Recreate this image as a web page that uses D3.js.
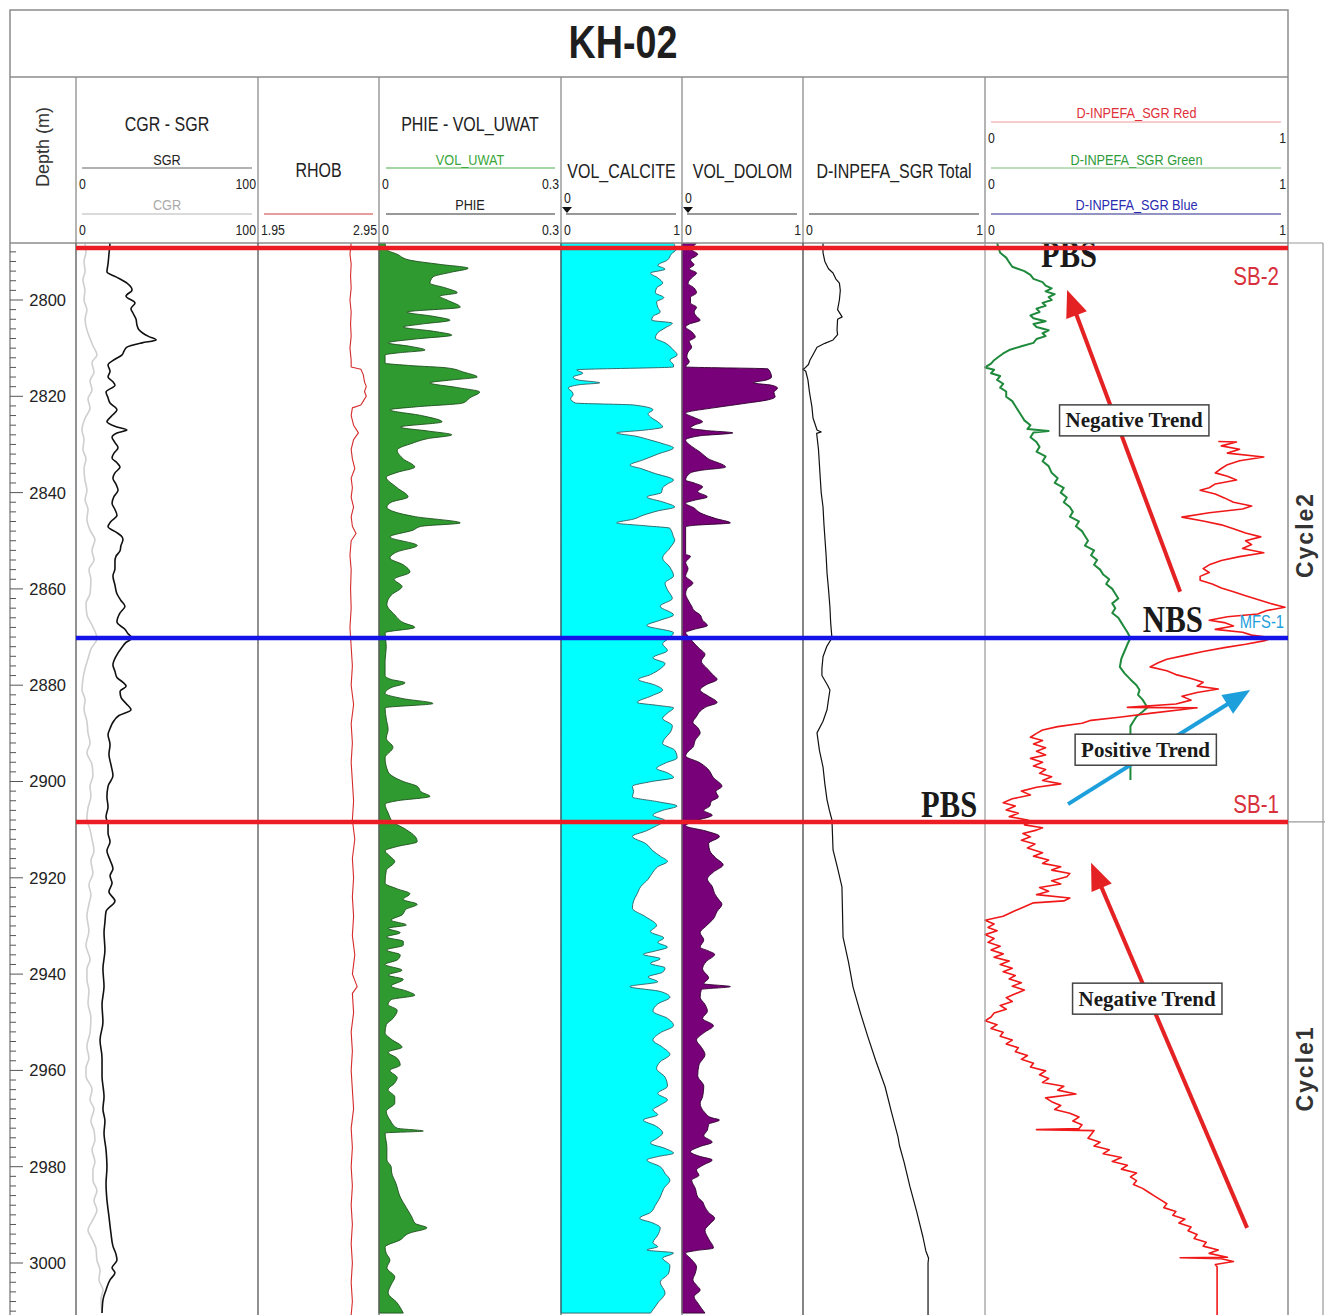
<!DOCTYPE html>
<html>
<head>
<meta charset="utf-8">
<script src="https://cdn.jsdelivr.net/npm/d3@7"></script>
<style>
  body { margin: 0; background: #fff; }
  svg { display: block; }
</style>
</head>
<body>
<svg id="chart" width="1325" height="1315"></svg>
<script>
// ---- log values, [depth (m), value] ----
var sgr = [[2788.2,18.7],[2790.5,18.1],[2792.5,17.6],[2794.2,17.0],[2795.2,22.0],[2796.5,28.0],[2797.9,30.8],[2799.2,27.5],[2800.6,32.4],[2801.8,30.2],[2802.7,31.3],[2804.0,33.0],[2805.2,33.5],[2806.2,34.6],[2806.9,36.8],[2807.6,40.1],[2808.3,44.0],[2808.9,36.3],[2809.8,28.0],[2810.6,26.4],[2811.4,25.3],[2812.3,21.4],[2813.5,17.6],[2814.8,18.7],[2816.0,17.6],[2817.0,20.3],[2817.7,21.4],[2819.1,16.5],[2820.3,17.6],[2821.4,18.7],[2822.8,22.5],[2824.0,19.8],[2825.3,17.0],[2826.3,22.0],[2827.0,28.0],[2827.6,22.5],[2828.5,19.8],[2829.6,21.4],[2830.7,23.1],[2831.8,20.9],[2832.8,19.8],[2833.8,22.5],[2834.7,24.2],[2835.9,21.4],[2837.0,20.3],[2838.3,22.0],[2839.5,23.1],[2840.8,20.9],[2842.2,19.8],[2843.5,21.4],[2844.7,22.5],[2846.0,19.2],[2847.1,17.6],[2848.2,22.0],[2849.2,25.3],[2849.8,25.8],[2851.0,24.7],[2852.1,24.2],[2853.2,22.0],[2854.3,21.4],[2855.8,21.4],[2857.3,20.3],[2859.2,21.4],[2861.0,22.5],[2862.4,24.7],[2863.6,26.9],[2865.0,24.2],[2866.9,22.5],[2868.4,26.9],[2869.3,28.6],[2870.2,30.8],[2871.1,27.5],[2872.1,25.3],[2874.0,22.0],[2875.8,20.3],[2877.1,21.4],[2878.4,22.5],[2879.4,25.8],[2880.2,27.5],[2881.3,24.2],[2882.5,24.7],[2883.8,27.5],[2885.1,30.2],[2886.3,23.6],[2887.7,20.3],[2889.0,18.7],[2890.3,17.6],[2892.3,18.7],[2894.4,18.1],[2896.5,19.2],[2898.8,20.3],[2901.0,17.6],[2903.2,17.0],[2905.3,17.6],[2907.3,16.5],[2909.0,17.6],[2910.7,17.6],[2912.5,18.7],[2914.4,17.0],[2916.3,18.7],[2918.1,20.3],[2919.6,18.7],[2921.1,19.8],[2922.9,18.1],[2924.8,21.4],[2927.0,16.5],[2929.2,15.9],[2931.4,15.4],[2935.0,15.9],[2938.9,14.8],[2942.6,15.4],[2946.3,14.3],[2950.0,14.8],[2953.7,13.2],[2957.4,14.3],[2961.1,14.3],[2965.5,15.4],[2968.0,14.8],[2970.5,15.9],[2973.0,15.4],[2976.5,16.5],[2980.1,17.0],[2983.5,16.5],[2986.9,17.0],[2990.3,18.1],[2993.8,19.2],[2996.5,20.3],[2998.2,22.0],[2999.4,22.5],[3001.0,19.8],[3002.0,21.4],[3003.5,18.7],[3005.6,16.5],[3007.7,14.8],[3010.4,14.3]];

var cgr = [[2788.2,4.9],[2790,5.5],[2792,4.4],[2794,5.0],[2795.8,3.8],[2798,4.9],[2800,4.4],[2802,6.0],[2804,5.0],[2806.2,6.0],[2808,7.7],[2809.5,9.3],[2811.4,11.5],[2813,8.8],[2815,9.9],[2816.8,7.7],[2818.7,8.8],[2820.5,6.6],[2822.5,7.7],[2824.5,5.0],[2827,3.3],[2829,4.4],[2831,3.8],[2833,5.5],[2835,4.4],[2837.4,4.9],[2839.5,6.0],[2841.5,5.0],[2843.5,6.6],[2845.5,6.0],[2847.8,7.7],[2849.8,10.4],[2852,8.8],[2854,9.9],[2856,7.1],[2858,8.2],[2861,7.7],[2863,5.5],[2865.4,6.0],[2867.5,8.8],[2870.3,11.5],[2872.5,8.2],[2874.5,6.6],[2876.5,5.0],[2878.8,3.8],[2881,3.3],[2883,5.0],[2885,4.4],[2887.5,6.0],[2889.9,6.6],[2892,7.7],[2894,6.0],[2896.5,8.8],[2898.8,9.3],[2901,7.7],[2903,8.2],[2905.5,6.6],[2907.7,6.0],[2910,7.7],[2912,8.8],[2914.4,9.9],[2916.5,8.2],[2919,9.3],[2921.5,7.1],[2923.5,8.2],[2925.5,7.1],[2928,6.0],[2931,7.1],[2934,5.5],[2937,7.7],[2939,6.0],[2941.1,6.0],[2943.5,7.1],[2946,6.6],[2949,8.2],[2952.2,7.7],[2955,6.0],[2957.5,7.1],[2959.5,5.5],[2961.1,5.5],[2964,8.8],[2966.1,7.7],[2968,9.9],[2970.5,8.2],[2972.5,9.9],[2974.5,10.4],[2976.5,8.8],[2979,10.4],[2980.7,9.3],[2982.8,9.3],[2985,11.5],[2987,9.9],[2989,11.5],[2991,9.3],[2993.2,6.6],[2995,8.8],[2997,11.0],[2999.4,11.5],[3001.5,13.2],[3003.5,12.6],[3005.6,14.8],[3007.5,13.7],[3010.4,14.3]];

var rhob = [[2788.2,2.72],[2790.5,2.71],[2792.5,2.72],[2795,2.715],[2797.5,2.72],[2800,2.71],[2802.5,2.72],[2805,2.715],[2807.5,2.72],[2810,2.71],[2812.5,2.72],[2813.9,2.72],[2814.4,2.80],[2815.5,2.82],[2817,2.83],[2818,2.845],[2819,2.83],[2820,2.845],[2821,2.82],[2821.8,2.80],[2822.4,2.73],[2824,2.72],[2826,2.74],[2827.6,2.78],[2829,2.74],[2831,2.72],[2833,2.73],[2835,2.75],[2837,2.72],[2839,2.73],[2841,2.72],[2843,2.74],[2845,2.72],[2847,2.73],[2848.5,2.76],[2850,2.72],[2853,2.71],[2856,2.72],[2860,2.715],[2864,2.72],[2868,2.71],[2872,2.72],[2876,2.73],[2880,2.72],[2884,2.74],[2888,2.72],[2892,2.73],[2896,2.72],[2900,2.73],[2904,2.74],[2908,2.73],[2912,2.75],[2916,2.73],[2920,2.74],[2924,2.73],[2928,2.74],[2932,2.73],[2936,2.75],[2940,2.73],[2942.6,2.77],[2944,2.73],[2948,2.74],[2952,2.72],[2956,2.73],[2960,2.72],[2964,2.73],[2968,2.74],[2972,2.72],[2976,2.73],[2980,2.72],[2984,2.73],[2988,2.72],[2992,2.73],[2996,2.72],[3000,2.73],[3004,2.72],[3008,2.73],[3010.8,2.72]];

var phie = [[2788.2,0.010],[2789.5,0.012],[2790.5,0.03],[2791.7,0.050],[2792.6,0.10],[2793.4,0.147],[2794.2,0.12],[2795.2,0.089],[2796.5,0.084],[2797.5,0.11],[2798.5,0.129],[2799.2,0.10],[2800.0,0.112],[2801.5,0.134],[2802.5,0.046],[2803.4,0.09],[2804.2,0.117],[2805.0,0.07],[2805.6,0.040],[2806.5,0.09],[2807.3,0.120],[2808.1,0.06],[2808.9,0.015],[2809.6,0.05],[2810.4,0.076],[2811.0,0.03],[2811.4,0.010],[2813.1,0.010],[2813.6,0.05],[2814.1,0.112],[2815.0,0.14],[2816.0,0.162],[2816.6,0.12],[2817.2,0.084],[2818.2,0.13],[2819.1,0.166],[2820.3,0.15],[2821.4,0.138],[2822.2,0.06],[2822.8,0.018],[2824.0,0.07],[2825.3,0.104],[2826.4,0.035],[2827.2,0.08],[2828.0,0.120],[2828.8,0.08],[2829.7,0.056],[2831.2,0.030],[2833.0,0.04],[2834.7,0.059],[2835.8,0.03],[2836.8,0.012],[2839.0,0.03],[2840.9,0.048],[2842.0,0.02],[2843.0,0.013],[2845.0,0.06],[2846.3,0.134],[2847.0,0.07],[2847.8,0.056],[2849.2,0.018],[2851.0,0.063],[2852.3,0.03],[2853.6,0.018],[2855.0,0.04],[2856.5,0.051],[2858.0,0.025],[2859.5,0.038],[2861.3,0.02],[2863.2,0.013],[2865.4,0.026],[2867.0,0.04],[2868.0,0.059],[2869.1,0.010],[2872,0.012],[2875,0.010],[2878.0,0.010],[2878.8,0.02],[2879.5,0.043],[2880.5,0.02],[2881.7,0.010],[2882.8,0.04],[2883.8,0.089],[2884.7,0.010],[2887,0.012],[2889.2,0.015],[2891,0.012],[2892.9,0.023],[2895.1,0.010],[2898,0.015],[2900,0.04],[2901.0,0.063],[2902.2,0.07],[2903.1,0.084],[2904.0,0.03],[2904.7,0.010],[2906.5,0.015],[2908.4,0.023],[2910,0.045],[2911.5,0.06],[2912.5,0.063],[2913.5,0.03],[2914.4,0.010],[2915.5,0.018],[2916.6,0.026],[2918.5,0.012],[2921.1,0.010],[2922.3,0.03],[2923.3,0.051],[2924.5,0.04],[2925.5,0.063],[2926.5,0.045],[2927.7,0.038],[2928.8,0.02],[2929.8,0.045],[2930.5,0.015],[2931.4,0.035],[2932.3,0.012],[2933.2,0.04],[2934.0,0.040],[2935,0.012],[2936,0.035],[2937.0,0.031],[2938,0.01],[2939.2,0.038],[2940.2,0.015],[2941.1,0.040],[2942.5,0.02],[2943.5,0.045],[2944.4,0.059],[2945.3,0.02],[2946.3,0.015],[2947.5,0.03],[2949.2,0.023],[2950.5,0.012],[2952.2,0.010],[2953.5,0.02],[2955.2,0.038],[2956.2,0.015],[2957.5,0.03],[2958.9,0.035],[2960,0.018],[2961.5,0.03],[2962.6,0.026],[2964,0.015],[2965.5,0.026],[2966.8,0.026],[2968.5,0.012],[2970.3,0.018],[2972.0,0.03],[2972.6,0.073],[2973.0,0.010],[2976,0.013],[2978.6,0.013],[2980,0.02],[2981.3,0.021],[2983.5,0.028],[2986.3,0.035],[2988.5,0.045],[2990.4,0.054],[2991.8,0.06],[2992.7,0.079],[2993.8,0.05],[2995.2,0.035],[2996.7,0.010],[2998,0.012],[2999.4,0.018],[3001.0,0.013],[3002.9,0.026],[3004.5,0.02],[3006.2,0.015],[3008.3,0.03],[3010.4,0.040]];

var volCalcite = [[2788.2,0.93],[2789.5,0.95],[2790.5,0.91],[2791.7,0.88],[2792.8,0.80],[2793.6,0.86],[2794.4,0.74],[2795.4,0.80],[2796.5,0.84],[2797.5,0.79],[2798.5,0.78],[2799.5,0.85],[2800.4,0.79],[2801.5,0.80],[2802.5,0.82],[2803.4,0.76],[2804.2,0.75],[2804.8,0.92],[2805.8,0.86],[2806.8,0.80],[2807.9,0.78],[2808.9,0.86],[2810.4,0.93],[2811.4,0.96],[2812.5,0.90],[2813.5,0.93],[2813.9,0.93],[2814.5,0.13],[2815.2,0.18],[2816.0,0.10],[2816.6,0.14],[2817.2,0.32],[2817.6,0.15],[2818.3,0.06],[2819.0,0.09],[2819.7,0.10],[2820.5,0.08],[2821.4,0.12],[2821.8,0.60],[2822.8,0.76],[2823.6,0.72],[2824.3,0.74],[2825.3,0.80],[2826.4,0.84],[2827.0,0.70],[2827.6,0.46],[2828.3,0.62],[2829.1,0.74],[2829.9,0.85],[2830.7,0.93],[2832.0,0.80],[2833.2,0.68],[2834.3,0.57],[2835.0,0.66],[2835.9,0.76],[2837.4,0.93],[2838.2,0.88],[2839.0,0.84],[2840.0,0.83],[2840.9,0.71],[2842.0,0.85],[2843.0,0.94],[2843.8,0.80],[2844.7,0.68],[2845.5,0.60],[2846.3,0.46],[2846.9,0.70],[2847.4,0.90],[2849.2,0.93],[2849.8,0.94],[2851.5,0.90],[2853.6,0.84],[2855.5,0.90],[2857.3,0.93],[2858.8,0.86],[2860.2,0.88],[2862.0,0.92],[2863.6,0.82],[2865.4,0.93],[2866.5,0.82],[2867.6,0.71],[2869.1,0.93],[2870.3,0.89],[2871.4,0.84],[2872.8,0.88],[2874.3,0.76],[2875.5,0.86],[2876.6,0.82],[2877.8,0.74],[2878.8,0.64],[2880.0,0.78],[2881.0,0.84],[2882.2,0.75],[2883.6,0.63],[2884.2,0.80],[2884.7,0.93],[2885.8,0.88],[2886.9,0.84],[2888.4,0.92],[2889.9,0.90],[2891.0,0.86],[2892.1,0.84],[2893.5,0.94],[2895.1,0.96],[2896.2,0.86],[2897.3,0.79],[2898.2,0.88],[2899.2,0.93],[2900.0,0.75],[2901.0,0.59],[2902.1,0.60],[2903.2,0.59],[2904.2,0.80],[2905.1,0.96],[2906.0,0.84],[2907.0,0.76],[2908.1,0.86],[2909.2,0.79],[2910.3,0.70],[2911.4,0.59],[2912.9,0.70],[2914.4,0.76],[2915.5,0.82],[2916.6,0.88],[2917.7,0.80],[2918.8,0.76],[2920.3,0.72],[2921.8,0.66],[2923.3,0.63],[2924.8,0.60],[2926.3,0.59],[2928.1,0.70],[2929.9,0.79],[2931.2,0.74],[2932.5,0.85],[2933.4,0.80],[2934.4,0.88],[2935.2,0.78],[2935.9,0.68],[2936.8,0.82],[2937.8,0.74],[2938.7,0.86],[2939.6,0.84],[2940.6,0.72],[2941.6,0.80],[2942.6,0.57],[2943.6,0.82],[2944.8,0.90],[2946.2,0.80],[2947.7,0.76],[2949.2,0.88],[2950.7,0.93],[2952.2,0.82],[2953.7,0.76],[2955.2,0.84],[2956.7,0.90],[2958.2,0.82],[2959.6,0.79],[2961.4,0.86],[2963.3,0.88],[2964.8,0.80],[2966.1,0.88],[2967.2,0.82],[2968.2,0.76],[2969.2,0.80],[2970.3,0.68],[2971.5,0.78],[2973.0,0.84],[2974.0,0.80],[2975.1,0.74],[2976.2,0.86],[2977.2,0.93],[2977.9,0.80],[2978.6,0.71],[2980.0,0.82],[2981.4,0.86],[2982.8,0.90],[2984.5,0.85],[2986.3,0.82],[2988.0,0.78],[2989.5,0.74],[2990.7,0.65],[2991.7,0.76],[2992.7,0.82],[2994.2,0.80],[2995.8,0.76],[2996.6,0.80],[2997.3,0.71],[2997.9,0.93],[2999.0,0.84],[3000.5,0.90],[3002.1,0.89],[3004.0,0.82],[3006.2,0.86],[3008.3,0.80],[3010.4,0.74]];

var volDolom = [[2788.2,0.12],[2789.5,0.08],[2790.5,0.13],[2791.7,0.07],[2792.7,0.10],[2793.5,0.06],[2794.4,0.12],[2795.4,0.08],[2796.5,0.05],[2797.5,0.10],[2798.5,0.12],[2799.5,0.07],[2800.6,0.07],[2801.5,0.12],[2802.5,0.10],[2803.4,0.12],[2804.2,0.15],[2805.0,0.06],[2805.6,0.03],[2806.6,0.08],[2807.7,0.11],[2808.6,0.06],[2809.8,0.08],[2810.8,0.05],[2811.8,0.04],[2812.8,0.06],[2813.9,0.03],[2814.3,0.71],[2815.0,0.73],[2816.0,0.74],[2816.6,0.70],[2817.2,0.59],[2817.7,0.74],[2818.3,0.79],[2819.2,0.76],[2820.1,0.77],[2820.8,0.70],[2821.4,0.54],[2821.9,0.40],[2822.4,0.26],[2823.5,0.03],[2824.4,0.10],[2825.3,0.17],[2826.0,0.10],[2826.6,0.07],[2827.1,0.20],[2827.6,0.42],[2828.2,0.15],[2829.1,0.03],[2830.4,0.08],[2831.6,0.15],[2833.0,0.22],[2834.7,0.36],[2835.4,0.15],[2835.9,0.07],[2837.4,0.03],[2838.0,0.10],[2838.8,0.17],[2839.8,0.13],[2840.9,0.21],[2841.6,0.10],[2842.2,0.03],[2843.2,0.10],[2844.2,0.15],[2845.4,0.28],[2846.3,0.40],[2846.8,0.10],[2847.1,0.03],[2849.2,0.03],[2852.8,0.03],[2853.2,0.07],[2854.5,0.03],[2855.8,0.05],[2857.3,0.03],[2858.8,0.09],[2860.0,0.04],[2861.0,0.03],[2862.3,0.05],[2863.6,0.08],[2864.5,0.10],[2865.4,0.15],[2866.5,0.17],[2867.6,0.21],[2868.4,0.10],[2869.1,0.03],[2870.0,0.06],[2871.0,0.09],[2872.3,0.14],[2873.6,0.19],[2875.0,0.16],[2876.6,0.21],[2877.7,0.25],[2878.8,0.29],[2879.9,0.20],[2881.0,0.15],[2882.3,0.22],[2883.6,0.29],[2884.5,0.20],[2885.4,0.15],[2886.5,0.12],[2887.7,0.09],[2888.8,0.13],[2889.9,0.15],[2891.4,0.11],[2892.9,0.09],[2893.8,0.05],[2894.7,0.03],[2896.0,0.14],[2897.3,0.21],[2899.2,0.26],[2901.0,0.33],[2902.1,0.28],[2903.2,0.30],[2904.2,0.24],[2905.1,0.23],[2906.0,0.18],[2907.0,0.25],[2908.1,0.12],[2909.2,0.03],[2910.3,0.20],[2911.4,0.31],[2912.9,0.22],[2914.4,0.23],[2915.9,0.28],[2917.3,0.34],[2918.8,0.26],[2920.3,0.21],[2921.8,0.25],[2923.3,0.27],[2924.4,0.30],[2925.5,0.33],[2927.0,0.29],[2928.5,0.26],[2930.0,0.20],[2931.4,0.15],[2932.9,0.18],[2934.4,0.15],[2935.2,0.22],[2935.9,0.27],[2937.4,0.20],[2938.9,0.17],[2940.8,0.22],[2942.0,0.18],[2942.6,0.40],[2943.2,0.16],[2944.8,0.15],[2946.3,0.19],[2947.7,0.21],[2949.2,0.17],[2950.7,0.26],[2952.2,0.18],[2953.7,0.12],[2955.2,0.16],[2956.7,0.19],[2958.9,0.14],[2961.1,0.13],[2963.3,0.18],[2965.5,0.17],[2966.8,0.15],[2968.8,0.19],[2969.8,0.24],[2970.3,0.31],[2971.2,0.22],[2972.4,0.21],[2973.6,0.18],[2974.9,0.25],[2975.8,0.15],[2976.9,0.07],[2977.8,0.14],[2978.6,0.25],[2979.6,0.18],[2980.7,0.12],[2981.8,0.14],[2982.8,0.08],[2984.5,0.11],[2986.3,0.13],[2987.3,0.17],[2988.4,0.19],[2989.5,0.22],[2990.7,0.27],[2991.9,0.23],[2993.2,0.19],[2995.0,0.22],[2996.9,0.26],[2997.4,0.12],[2997.9,0.03],[2999.3,0.08],[3000.8,0.12],[3002.1,0.11],[3003.5,0.09],[3004.6,0.12],[3005.6,0.15],[3007.0,0.10],[3008.3,0.13],[3009.4,0.16],[3010.4,0.19]];

var inpefaTotal = [[2788.2,0.11],[2790.2,0.11],[2792.0,0.12],[2793.5,0.14],[2794.4,0.165],[2795.6,0.18],[2796.5,0.20],[2798.0,0.205],[2800,0.20],[2802,0.19],[2803.5,0.215],[2804,0.19],[2806.2,0.187],[2807.2,0.19],[2808.3,0.165],[2809.0,0.12],[2809.8,0.077],[2811.0,0.06],[2812.5,0.038],[2813.4,0.03],[2814.1,0.011],[2814.4,0.0],[2814.8,0.015],[2816.6,0.027],[2819,0.035],[2822.2,0.049],[2824.5,0.055],[2827.0,0.077],[2827.4,0.10],[2827.7,0.075],[2831,0.085],[2835.9,0.093],[2840,0.10],[2843.0,0.11],[2846.5,0.115],[2849.8,0.121],[2853,0.127],[2856.7,0.132],[2860,0.14],[2863.8,0.148],[2867,0.152],[2870.2,0.159],[2872,0.13],[2874.1,0.11],[2876.5,0.104],[2878,0.104],[2880,0.135],[2881.0,0.148],[2883,0.14],[2885.1,0.132],[2887.5,0.11],[2889.9,0.077],[2893.5,0.09],[2897.0,0.11],[2900.5,0.12],[2903.8,0.132],[2906,0.145],[2908,0.159],[2911,0.162],[2914.2,0.165],[2918,0.19],[2921.9,0.214],[2927,0.217],[2932.3,0.22],[2937.5,0.25],[2942.7,0.275],[2948,0.315],[2953.1,0.357],[2958,0.40],[2963.4,0.451],[2968.5,0.485],[2973.8,0.522],[2975.6,0.53],[2979,0.555],[2984.2,0.588],[2989.4,0.625],[2994.6,0.659],[2997.5,0.675],[2999,0.69],[3000,0.687],[3010.8,0.687]];

var inpefaGreen = [[2788.2,0.04],[2789.2,0.045],[2790.2,0.05],[2791.2,0.07],[2792.2,0.08],[2793.1,0.09],[2794.0,0.13],[2794.8,0.15],[2795.6,0.16],[2796.3,0.19],[2797.0,0.20],[2797.6,0.22],[2798.2,0.20],[2798.8,0.23],[2799.4,0.21],[2800.0,0.22],[2800.6,0.19],[2801.2,0.20],[2801.8,0.17],[2802.5,0.18],[2803.2,0.15],[2803.8,0.16],[2804.4,0.2],[2805.0,0.16],[2805.6,0.17],[2806.3,0.21],[2806.9,0.19],[2807.5,0.2],[2808.1,0.17],[2808.9,0.16],[2809.6,0.12],[2810.4,0.08],[2811.1,0.06],[2811.8,0.045],[2812.5,0.03],[2813.2,0.02],[2814.0,0.0],[2814.5,0.03],[2815.2,0.02],[2815.8,0.05],[2816.6,0.04],[2817.4,0.06],[2818.2,0.05],[2819.0,0.07],[2820.1,0.07],[2821.0,0.09],[2822.0,0.1],[2823.0,0.11],[2824.0,0.12],[2825.0,0.13],[2826.0,0.15],[2826.8,0.14],[2827.2,0.21],[2827.5,0.16],[2828.5,0.15],[2829.5,0.17],[2830.5,0.18],[2831.5,0.17],[2832.5,0.2],[2833.5,0.19],[2834.5,0.21],[2835.9,0.22],[2837.0,0.24],[2838.0,0.23],[2839.0,0.26],[2840.0,0.25],[2841.0,0.27],[2842.0,0.26],[2843.0,0.28],[2844.0,0.29],[2845.0,0.28],[2846.0,0.31],[2847.0,0.30],[2848.0,0.32],[2849.0,0.33],[2850.0,0.34],[2851.0,0.33],[2852.0,0.36],[2853.0,0.35],[2854.0,0.37],[2855.0,0.36],[2856.0,0.38],[2857.0,0.39],[2858.0,0.41],[2859.0,0.40],[2860.0,0.42],[2861.0,0.43],[2862.0,0.44],[2863.0,0.42],[2864.0,0.43],[2865.0,0.42],[2866.0,0.44],[2867.0,0.45],[2868.0,0.46],[2869.0,0.47],[2870.2,0.48],[2871.5,0.47],[2873.0,0.46],[2874.5,0.45],[2876.2,0.445],[2877.5,0.46],[2878.8,0.48],[2880.0,0.5],[2881.0,0.51],[2882.0,0.505],[2883.0,0.52],[2884.0,0.53],[2884.7,0.535],[2885.5,0.52],[2886.5,0.5],[2887.5,0.49],[2888.5,0.48],[2889.9,0.48],[2899.7,0.48]];

var inpefaRed = [[2829.4,0.77],[2829.5,0.83],[2830.3,0.78],[2831.0,0.84],[2831.8,0.80],[2832.6,0.92],[2833.4,0.84],[2834.2,0.80],[2835.0,0.78],[2835.9,0.76],[2836.6,0.80],[2837.4,0.83],[2838.2,0.76],[2839.0,0.74],[2839.5,0.71],[2840.3,0.76],[2841.1,0.79],[2842.0,0.82],[2842.8,0.88],[2843.4,0.85],[2844.2,0.74],[2845.1,0.65],[2845.9,0.72],[2846.7,0.78],[2847.5,0.82],[2848.4,0.86],[2849.2,0.91],[2850.0,0.86],[2850.8,0.88],[2851.6,0.85],[2852.5,0.92],[2853.3,0.84],[2854.1,0.78],[2855.0,0.74],[2855.8,0.72],[2856.6,0.74],[2857.4,0.71],[2858.2,0.71],[2859.0,0.75],[2859.8,0.78],[2860.6,0.82],[2861.4,0.86],[2862.2,0.9],[2863.0,0.94],[2863.8,0.99],[2864.5,0.93],[2865.2,0.9],[2865.8,0.80],[2866.5,0.74],[2867.0,0.79],[2867.7,0.82],[2868.4,0.76],[2869.0,0.85],[2869.6,0.88],[2870.2,0.95],[2870.8,0.92],[2871.5,0.86],[2872.2,0.79],[2873.0,0.72],[2873.8,0.66],[2874.6,0.6],[2875.4,0.57],[2876.2,0.545],[2877.0,0.6],[2877.8,0.63],[2878.6,0.68],[2879.4,0.72],[2880.2,0.70],[2880.8,0.77],[2881.5,0.70],[2882.3,0.65],[2883.1,0.68],[2883.9,0.63],[2884.6,0.47],[2884.7,0.70],[2885.0,0.66],[2885.8,0.55],[2886.6,0.45],[2887.3,0.35],[2887.9,0.32],[2888.6,0.24],[2889.3,0.19],[2890.0,0.17],[2890.8,0.15],[2891.5,0.19],[2892.2,0.16],[2893.0,0.2],[2893.7,0.17],[2894.5,0.2],[2895.2,0.15],[2896.0,0.19],[2896.8,0.16],[2897.5,0.2],[2898.3,0.18],[2899.0,0.22],[2899.8,0.19],[2900.5,0.25],[2901.2,0.17],[2902.0,0.12],[2902.8,0.15],[2903.6,0.09],[2904.4,0.06],[2905.1,0.1],[2905.9,0.07],[2906.6,0.11],[2907.3,0.08],[2908.0,0.14],[2908.4,0.158],[2909.0,0.13],[2909.6,0.19],[2910.1,0.17],[2910.8,0.125],[2911.5,0.15],[2912.2,0.12],[2913.0,0.165],[2913.8,0.14],[2914.8,0.19],[2915.5,0.16],[2916.3,0.21],[2917.0,0.19],[2917.7,0.25],[2918.4,0.22],[2919.1,0.28],[2919.8,0.27],[2920.6,0.22],[2921.3,0.25],[2922.0,0.18],[2922.8,0.21],[2923.5,0.17],[2924.2,0.28],[2924.8,0.26],[2925.2,0.16],[2926.0,0.13],[2927.1,0.09],[2928.0,0.06],[2928.8,0.0],[2929.6,0.03],[2930.3,0.01],[2931.0,0.04],[2931.8,0.0],[2932.6,0.03],[2933.4,0.01],[2934.2,0.05],[2935.0,0.02],[2935.8,0.06],[2936.5,0.03],[2937.3,0.08],[2938.0,0.05],[2938.8,0.09],[2939.5,0.06],[2940.3,0.1],[2941.0,0.08],[2941.8,0.12],[2942.5,0.09],[2943.3,0.13],[2944.1,0.1],[2944.9,0.07],[2945.7,0.09],[2946.5,0.05],[2947.3,0.07],[2948.1,0.03],[2948.9,0.02],[2949.7,0.0],[2950.5,0.04],[2951.3,0.02],[2952.1,0.06],[2952.9,0.05],[2953.7,0.09],[2954.5,0.07],[2955.3,0.11],[2956.1,0.1],[2956.9,0.14],[2957.7,0.12],[2958.5,0.16],[2959.3,0.15],[2960.1,0.2],[2960.9,0.18],[2961.7,0.21],[2962.5,0.19],[2963.3,0.26],[2964.1,0.24],[2964.9,0.30],[2965.7,0.2],[2966.5,0.22],[2967.3,0.25],[2968.1,0.23],[2968.9,0.28],[2969.7,0.31],[2970.5,0.29],[2971.3,0.32],[2972.1,0.31],[2972.3,0.17],[2972.5,0.36],[2973.3,0.35],[2974.1,0.34],[2974.9,0.38],[2975.7,0.36],[2976.5,0.41],[2977.3,0.39],[2978.1,0.45],[2978.9,0.42],[2979.7,0.47],[2980.5,0.45],[2981.3,0.5],[2982.1,0.48],[2982.9,0.5],[2983.7,0.49],[2984.5,0.52],[2985.3,0.54],[2986.1,0.56],[2986.9,0.58],[2987.7,0.6],[2988.5,0.59],[2989.3,0.63],[2990.1,0.62],[2990.9,0.66],[2991.7,0.64],[2992.5,0.68],[2993.3,0.67],[2994.1,0.7],[2994.9,0.69],[2995.7,0.73],[2996.5,0.72],[2997.3,0.77],[2998.0,0.74],[2998.8,0.80],[2998.9,0.644],[2999.1,0.78],[2999.7,0.82],[3000.3,0.76],[3000.8,0.766],[3010.8,0.766]];

// depth axis
var depthLabels = [2800, 2820, 2840, 2860, 2880, 2900, 2920, 2940, 2960, 2980, 3000];
var depthMinor = d3.range(2790, 3012, 2);

// stratigraphic surfaces
var surfaceNames = ["SB-2", "MFS-1", "SB-1"];
var surfaceDepths = [2789.2, 2870.2, 2908.4];

// cycles
var cycleNames = ["Cycle2", "Cycle1"];
var cycleTops = [2789.2, 2908.4];
var cycleBases = [2908.4, 3010.8];

// trend annotations in D-INPEFA track units [value, depth]
var trendNames = ["Negative Trend", "Positive Trend", "Negative Trend"];
var trendLabelAt = [[0.492, 2825.0], [0.530, 2893.4], [0.535, 2945.1]];
var trendFrom = [[0.644, 2860.6], [0.274, 2904.7], [0.865, 2992.7]];
var trendTo = [[0.271, 2797.9], [0.875, 2881.0], [0.350, 2916.9]];

// ---- layout ----
var SANS = "'Liberation Sans',Arial,sans-serif";
var SERIF = "'Liberation Serif','Times New Roman',serif";
var SQUEEZE = 0.82;   // no narrow face installed, so condense the sans by hand
var TOP = 243, BOT = 1315, LEFT = 10, RIGHT = 1288;

var svg = d3.select("#chart");
var y = d3.scaleLinear().domain([2800, 3000]).range([300, 1263]);

var xGR = d3.scaleLinear().domain([0, 100]).range([76, 258]);
var xRHOB = d3.scaleLinear().domain([1.95, 2.95]).range([258, 379]);
var xPHIE = d3.scaleLinear().domain([0, 0.3]).range([379, 561]);
var xCALC = d3.scaleLinear().domain([0, 1]).range([561, 682]);
var xDOLO = d3.scaleLinear().domain([0, 1]).range([682, 803]);
var xTOT = d3.scaleLinear().domain([0, 1]).range([803, 985]);
var xRGB = d3.scaleLinear().domain([0, 1]).range([985, 1288]);

svg.append("defs").append("clipPath").attr("id", "dataClip")
  .append("rect").attr("x", 76).attr("y", TOP).attr("width", RIGHT - 76).attr("height", BOT - TOP);

var plot = svg.append("g").attr("clip-path", "url(#dataClip)");

function fillLog(data, xs, fill, stroke, curve) {
  plot.append("path").datum(data)
    .attr("fill", fill).attr("stroke", stroke).attr("stroke-width", 0.9)
    .attr("d", d3.area().curve(curve || d3.curveLinear).y(function (d) { return y(d[0]); })
      .x0(xs.range()[0]).x1(function (d) { return xs(d[1]); }));
}
function lineLog(data, xs, color, w, curve) {
  plot.append("path").datum(data)
    .attr("fill", "none").attr("stroke", color).attr("stroke-width", w)
    .attr("stroke-linejoin", "round")
    .attr("d", d3.line().curve(curve || d3.curveLinear)
      .x(function (d) { return xs(d[1]); }).y(function (d) { return y(d[0]); }));
}

fillLog(phie, xPHIE, "#2f9a2f", "#1d4f1d", d3.curveMonotoneY);
fillLog(volCalcite, xCALC, "#00ffff", "#2b5e62", d3.curveMonotoneY);
fillLog(volDolom, xDOLO, "#780078", "#2e002e", d3.curveMonotoneY);

lineLog(cgr, xGR, "#cfcfcf", 1.6, d3.curveMonotoneY);
lineLog(sgr, xGR, "#111", 1.6, d3.curveMonotoneY);
lineLog(rhob, xRHOB, "#d42b2b", 1.1);
lineLog(inpefaTotal, xTOT, "#111", 1.2);
lineLog(inpefaGreen, xRGB, "#1f8a3c", 2);
lineLog(inpefaRed, xRGB, "#f01818", 1.6);

// boundary labels PBS / NBS sit under the surface lines
var bsLabels = [["PBS", 0.185, 2793.1, "start"], ["NBS", 0.521, 2869.0, "start"], ["PBS", -0.026, 2907.4, "end"]];
bsLabels.forEach(function (b) {
  plot.append("text").attr("x", xRGB(b[1])).attr("y", y(b[2])).attr("text-anchor", b[3])
    .attr("font-family", SERIF).attr("font-weight", "bold").attr("font-size", 37)
    .attr("textLength", b[0] === "NBS" ? 60 : 56).attr("lengthAdjust", "spacingAndGlyphs")
    .attr("fill", "#1a1a1a").text(b[0]);
});

// condensed text helper
function ctext(g, x, yy, t, size, anchor, color, weight) {
  return g.append("text").attr("transform", "translate(" + x + "," + yy + ") scale(" + SQUEEZE + ",1)")
    .attr("text-anchor", anchor || "middle").attr("font-family", SANS)
    .attr("font-size", size).attr("font-weight", weight || "normal")
    .attr("fill", color || "#222").text(t);
}

// ---- grid / frame ----
var frame = svg.append("g").attr("fill", "none");
frame.append("rect").attr("x", LEFT).attr("y", 10).attr("width", RIGHT - LEFT).attr("height", BOT + 20)
  .attr("stroke", "#8c8c8c").attr("stroke-width", 1.5);
frame.append("line").attr("x1", LEFT).attr("x2", RIGHT).attr("y1", 77).attr("y2", 77)
  .attr("stroke", "#8c8c8c").attr("stroke-width", 1.5);
frame.append("line").attr("x1", LEFT).attr("x2", RIGHT).attr("y1", TOP).attr("y2", TOP)
  .attr("stroke", "#8c8c8c").attr("stroke-width", 1.5);

var bounds = [76, 258, 379, 561, 682, 803, 985];
var boundColor = ["#555", "#555", "#666", "#3e6f72", "#777", "#444", "#a0a0a0"];
bounds.forEach(function (bx, i) {
  frame.append("line").attr("x1", bx).attr("x2", bx).attr("y1", 77).attr("y2", TOP)
    .attr("stroke", "#8c8c8c").attr("stroke-width", 1.3);
  frame.append("line").attr("x1", bx).attr("x2", bx).attr("y1", TOP).attr("y2", BOT)
    .attr("stroke", boundColor[i]).attr("stroke-width", 1.3);
});

// cycle column at right
frame.append("line").attr("x1", RIGHT).attr("x2", 1323).attr("y1", TOP).attr("y2", TOP)
  .attr("stroke", "#999").attr("stroke-width", 1.2);
frame.append("line").attr("x1", 1323).attr("x2", 1323).attr("y1", TOP).attr("y2", BOT)
  .attr("stroke", "#999").attr("stroke-width", 1.2);
frame.append("line").attr("x1", RIGHT).attr("x2", 1325).attr("y1", y(cycleBases[0])).attr("y2", y(cycleBases[0]))
  .attr("stroke", "#999").attr("stroke-width", 1.2);

cycleNames.forEach(function (c, i) {
  var cy = y((cycleTops[i] + cycleBases[i]) / 2);
  svg.append("text").attr("transform", "translate(1313," + cy + ") rotate(-90)")
    .attr("text-anchor", "middle").attr("font-family", SANS).attr("font-weight", "bold")
    .attr("font-size", 23).attr("letter-spacing", 2).attr("fill", "#333").text(c);
});

// ---- depth track ----
var depthG = svg.append("g");
depthMinor.forEach(function (d) {
  var major = depthLabels.indexOf(d) >= 0;
  depthG.append("line").attr("x1", LEFT).attr("x2", major ? 23 : 16)
    .attr("y1", y(d)).attr("y2", y(d)).attr("stroke", "#555").attr("stroke-width", 1);
});
depthLabels.forEach(function (d) {
  depthG.append("text").attr("x", 66).attr("y", y(d)).attr("dy", "0.36em")
    .attr("text-anchor", "end").attr("font-family", SANS).attr("font-size", 16.5)
    .attr("fill", "#222").text(d);
});

// ---- header ----
var hdr = svg.append("g");
ctext(hdr, 623, 58, "KH-02", 46, "middle", "#1e1e1e", "bold");
hdr.append("text").attr("transform", "translate(49,147) rotate(-90)").attr("text-anchor", "middle")
  .attr("font-family", SANS).attr("font-size", 18).attr("fill", "#333").text("Depth (m)");

function htext(x, yy, t, size, anchor, color) { ctext(hdr, x, yy, t, size, anchor, color); }
function hline(x1, x2, yy, color) {
  hdr.append("line").attr("x1", x1).attr("x2", x2).attr("y1", yy).attr("y2", yy)
    .attr("stroke", color).attr("stroke-width", 1.2);
}
function scaleRow(xs, yy, lo, hi) {
  var r = xs.range();
  htext(r[0] + 3, yy, lo, 15, "start");
  htext(r[1] - 2, yy, hi, 15, "end");
}

// CGR - SGR
htext(167, 131, "CGR - SGR", 19.5);
htext(167, 165, "SGR", 15.5);
hline(82, 252, 168, "#666");
scaleRow(xGR, 189, "0", "100");
htext(167, 210, "CGR", 15.5, "middle", "#aaa");
hline(82, 252, 214, "#b5b5b5");
scaleRow(xGR, 235, "0", "100");
// RHOB
htext(318.5, 177, "RHOB", 19.5);
hline(264, 373, 214, "#d43a3a");
scaleRow(xRHOB, 235, "1.95", "2.95");
// PHIE - VOL_UWAT
htext(470, 131, "PHIE - VOL_UWAT", 19.5);
htext(470, 165, "VOL_UWAT", 15.5, "middle", "#3aa63a");
hline(386, 555, 168, "#4db04d");
scaleRow(xPHIE, 189, "0", "0.3");
htext(470, 210, "PHIE", 15.5);
hline(386, 555, 214, "#333");
scaleRow(xPHIE, 235, "0", "0.3");
// VOL_CALCITE / VOL_DOLOM
[[xCALC, "VOL_CALCITE"], [xDOLO, "VOL_DOLOM"]].forEach(function (c) {
  var r = c[0].range(), cx = (r[0] + r[1]) / 2;
  htext(cx, 178, c[1], 19.5);
  htext(r[0] + 3, 203, "0", 15, "start");
  hdr.append("path").attr("d", "M" + (r[0] + 1) + ",207 L" + (r[0] + 11) + ",207 L" + (r[0] + 6) + ",213 Z")
    .attr("fill", "#111");
  hline(r[0] + 5, r[1] - 6, 214, "#333");
  scaleRow(c[0], 235, "0", "1");
});
// D-INPEFA_SGR Total
htext(894, 178, "D-INPEFA_SGR Total", 19.5);
hline(809, 979, 214, "#333");
scaleRow(xTOT, 235, "0", "1");
// D-INPEFA_SGR RGB
htext(1136.5, 118, "D-INPEFA_SGR Red", 15.5, "middle", "#e0303a");
hline(991, 1281, 122, "#f29a9a");
scaleRow(xRGB, 143, "0", "1");
htext(1136.5, 165, "D-INPEFA_SGR Green", 15.5, "middle", "#2f9a3a");
hline(991, 1281, 168, "#7bc27b");
scaleRow(xRGB, 189, "0", "1");
htext(1136.5, 210, "D-INPEFA_SGR Blue", 15.5, "middle", "#2a2ab0");
hline(991, 1281, 214, "#2a2a8a");
scaleRow(xRGB, 235, "0", "1");

// ---- surfaces ----
var surfColor = ["#ec1c24", "#1414e8", "#ec1c24"];
var surfLabelColor = ["#d8303c", "#1da0dc", "#d8303c"];
var surfLabelSize = [25, 18, 25];
var surfLabelDy = [37, -10, -9];
var surfLabelX = [0.97, 0.987, 0.97];
surfaceDepths.forEach(function (d, i) {
  svg.append("line").attr("x1", 76).attr("x2", RIGHT).attr("y1", y(d)).attr("y2", y(d))
    .attr("stroke", surfColor[i]).attr("stroke-width", 4.5);
  ctext(svg, xRGB(surfLabelX[i]), y(d) + surfLabelDy[i], surfaceNames[i], surfLabelSize[i], "end", surfLabelColor[i]);
});

// ---- trend arrows ----
var arrowColor = ["#e42224", "#1d9fdc", "#e42224"];
trendFrom.forEach(function (f, i) {
  var x1 = xRGB(f[0]), y1 = y(f[1]), x2 = xRGB(trendTo[i][0]), y2 = y(trendTo[i][1]);
  var dx = x2 - x1, dy = y2 - y1, len = Math.sqrt(dx * dx + dy * dy);
  var ux = dx / len, uy = dy / len, hl = 27, hw = 11;
  var bx = x2 - ux * hl, by = y2 - uy * hl;
  svg.append("line").attr("x1", x1).attr("y1", y1).attr("x2", bx + ux * 2).attr("y2", by + uy * 2)
    .attr("stroke", arrowColor[i]).attr("stroke-width", 4);
  svg.append("path").attr("d", "M" + x2 + "," + y2 + " L" + (bx - uy * hw) + "," + (by + ux * hw) +
    " L" + (bx + uy * hw) + "," + (by - ux * hw) + " Z").attr("fill", arrowColor[i]);
});

// ---- trend boxes ----
trendNames.forEach(function (t, i) {
  var g = svg.append("g");
  var cx = xRGB(trendLabelAt[i][0]), cy = y(trendLabelAt[i][1]);
  var txt = g.append("text").attr("x", cx).attr("y", cy).attr("dy", "0.33em")
    .attr("text-anchor", "middle").attr("font-family", SERIF).attr("font-weight", "bold")
    .attr("font-size", 21).attr("fill", "#1a1a1a").text(t);
  var bb = txt.node().getBBox();
  g.insert("rect", "text").attr("x", bb.x - 6).attr("y", cy - 15.5).attr("width", bb.width + 12).attr("height", 31)
    .attr("fill", "#fff").attr("stroke", "#444").attr("stroke-width", 1.5);
});
</script>
</body>
</html>
